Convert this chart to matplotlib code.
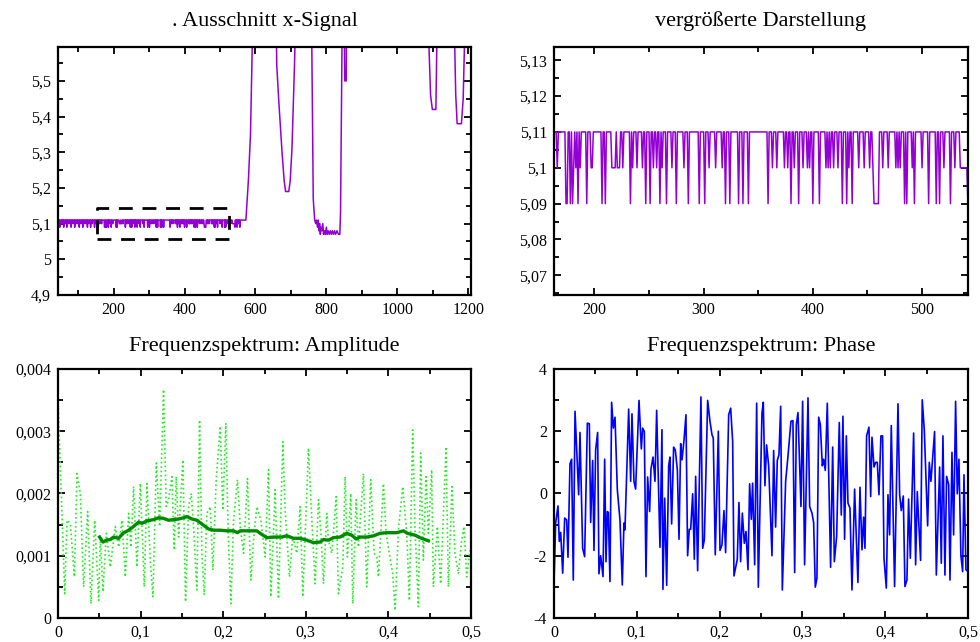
import numpy as np
import matplotlib
matplotlib.use("Agg")
import matplotlib.pyplot as plt
from matplotlib.ticker import MultipleLocator, FuncFormatter

plt.rcParams['font.family'] = ['Liberation Serif', 'DejaVu Serif']

# x-Signal: Grundpegel 5,11 mit Einbruechen auf 5,10 bzw. 5,09 (Abtastwerte)
signal_start, signal_end = 43, 573
base_level = 5.11
dips_510 = [45, 52, 55, 64, 71, 76, 85, 94, 98, 108, 117, 122, 131, 140, 150, 158,
            161, 166, 181, 183, 187, 197, 198, 216, 217, 218, 219, 221, 222, 223,
            226, 235, 239, 244, 254, 257, 262, 271, 282, 305, 311, 317, 363, 367,
            374, 377, 383, 391, 395, 397, 412, 414, 416, 419, 423, 433, 442, 447,
            452, 455, 464, 469, 476, 478, 480, 491, 500, 520, 530, 535, 536, 537,
            538, 539, 540, 541, 545, 552]
dips_509 = [48, 59, 68, 80, 90, 103, 113, 126, 135, 146, 155, 174, 175, 178, 180,
            185, 193, 207, 210, 233, 247, 251, 260, 266, 275, 286, 296, 301, 320,
            324, 332, 336, 341, 359, 380, 387, 400, 406, 427, 431, 436, 456, 457,
            458, 459, 460, 484, 486, 493, 506, 513, 516, 526, 542, 548, 556]

# grober Verlauf nach dem Ruhebereich (x, Wert)
shape_pts = [(580, 5.22), (586, 5.35), (591, 5.60), (594, 5.70), (658, 5.70),
             (660, 5.545), (666, 5.44), (675, 5.30), (681, 5.22), (685, 5.19),
             (694, 5.19), (698, 5.22), (703, 5.31), (710, 5.54), (714, 5.70),
             (758, 5.70), (763, 5.17), (767, 5.11), (770, 5.10), (772, 5.11),
             (775, 5.09), (777, 5.11), (779, 5.08), (781, 5.10), (783, 5.07),
             (785, 5.09), (787, 5.08), (790, 5.10), (792, 5.07), (795, 5.08),
             (797, 5.07), (800, 5.09), (802, 5.07), (805, 5.08), (808, 5.07),
             (811, 5.08), (814, 5.07), (817, 5.08), (820, 5.07), (823, 5.08),
             (826, 5.07), (830, 5.08), (834, 5.07), (838, 5.07), (840, 5.13),
             (845, 5.70), (850, 5.70), (852, 5.50), (856, 5.50), (857, 5.70),
             (1087, 5.70), (1090, 5.58), (1094, 5.46), (1099, 5.42), (1109, 5.42),
             (1113, 5.70), (1160, 5.70), (1165, 5.46), (1169, 5.38), (1181, 5.38),
             (1186, 5.45), (1192, 5.70), (1210, 5.70)]

box_x = [153, 526]
box_y = [5.057, 5.143]

# Amplitudenspektrum (Werte in 1e-3)
amp_pts = [(0.0, 3.51), (0.0081, 0.39), (0.0109, 1.57), (0.0149, 1.52), (0.0198, 0.66),
           (0.0230, 2.32), (0.0270, 2.00), (0.0310, 0.50), (0.0359, 1.71), (0.0399, 0.23),
           (0.0444, 1.57), (0.0492, 0.28), (0.0512, 1.30), (0.0544, 0.42), (0.0585, 1.36),
           (0.0633, 0.82), (0.0694, 1.47), (0.0734, 1.14), (0.0774, 1.57), (0.0815, 0.66),
           (0.0855, 1.68), (0.0883, 1.14), (0.0915, 2.11), (0.0956, 0.82), (0.0996, 2.16),
           (0.1044, 0.50), (0.1077, 2.16), (0.1117, 0.93), (0.1149, 0.34), (0.1190, 2.49),
           (0.1230, 1.47), (0.1278, 3.67), (0.1310, 1.79), (0.1339, 1.90), (0.1379, 2.27),
           (0.1407, 1.09), (0.1431, 2.27), (0.1460, 1.30), (0.1512, 2.54), (0.1544, 0.26),
           (0.1581, 1.79), (0.1613, 2.00), (0.1641, 1.47), (0.1681, 0.45), (0.1714, 3.18),
           (0.1742, 1.04), (0.1770, 0.37), (0.1802, 1.68), (0.1843, 1.79), (0.1875, 0.77),
           (0.1915, 2.22), (0.1964, 3.08), (0.1996, 1.73), (0.2032, 3.13), (0.2060, 1.36),
           (0.2093, 0.23), (0.2125, 1.57), (0.2173, 2.22), (0.2206, 1.47), (0.2246, 1.04),
           (0.2294, 2.24), (0.2335, 0.61), (0.2367, 1.25), (0.2407, 1.79), (0.2456, 1.57),
           (0.2508, 0.98), (0.2548, 2.38), (0.2577, 0.34), (0.2629, 2.06), (0.2669, 0.31),
           (0.2722, 2.83), (0.2750, 1.73), (0.2802, 0.66), (0.2843, 1.30), (0.2891, 1.04),
           (0.2931, 1.79), (0.2964, 0.34), (0.3032, 2.73), (0.3073, 1.57), (0.3113, 0.55),
           (0.3153, 1.90), (0.3181, 1.41), (0.3214, 0.55), (0.3254, 1.68), (0.3274, 1.25),
           (0.3315, 1.04), (0.3367, 1.95), (0.3395, 0.39), (0.3448, 0.82), (0.3476, 2.27),
           (0.3504, 0.98), (0.3544, 2.00), (0.3569, 0.23), (0.3609, 1.90), (0.3637, 1.14),
           (0.3698, 2.32), (0.3738, 0.50), (0.3786, 2.22), (0.3827, 1.04), (0.3859, 0.98),
           (0.3879, 0.66), (0.3940, 2.16), (0.3972, 1.36), (0.4012, 1.04), (0.4052, 0.71),
           (0.4081, 0.12), (0.4121, 1.41), (0.4173, 2.11), (0.4222, 1.36), (0.4254, 0.28),
           (0.4294, 3.02), (0.4323, 1.41), (0.4363, 0.18), (0.4391, 2.65), (0.4423, 0.93),
           (0.4456, 2.27), (0.4484, 1.36), (0.4524, 2.38), (0.4544, 0.50), (0.4593, 1.47),
           (0.4633, 0.55), (0.4698, 2.75), (0.4726, 0.50), (0.4770, 2.11), (0.4806, 1.04),
           (0.4847, 0.71), (0.4887, 1.25), (0.4915, 1.47), (0.4948, 0.66), (0.4988, 1.09)]

# gleitender Mittelwert (Werte in 1e-3)
amp_mean_pts = [(0.0504, 1.30), (0.0544, 1.22), (0.0585, 1.25), (0.0633, 1.26), (0.0673, 1.30),
                (0.0734, 1.28), (0.0786, 1.36), (0.0855, 1.41), (0.0915, 1.47), (0.0976, 1.54),
                (0.1016, 1.52), (0.1077, 1.56), (0.1157, 1.58), (0.1218, 1.61), (0.1278, 1.60),
                (0.1339, 1.57), (0.1399, 1.58), (0.1460, 1.59), (0.1520, 1.61), (0.1560, 1.63),
                (0.1621, 1.59), (0.1681, 1.57), (0.1742, 1.51), (0.1823, 1.43), (0.1883, 1.41),
                (0.1964, 1.41), (0.2044, 1.40), (0.2125, 1.40), (0.2173, 1.37), (0.2206, 1.40),
                (0.2286, 1.40), (0.2407, 1.40), (0.2448, 1.36), (0.2528, 1.29), (0.2609, 1.30),
                (0.2710, 1.30), (0.2770, 1.32), (0.2851, 1.28), (0.2931, 1.28), (0.3012, 1.25),
                (0.3093, 1.21), (0.3173, 1.22), (0.3214, 1.26), (0.3274, 1.25), (0.3335, 1.29),
                (0.3415, 1.30), (0.3496, 1.36), (0.3556, 1.33), (0.3609, 1.27), (0.3657, 1.30),
                (0.3738, 1.30), (0.3819, 1.32), (0.3899, 1.36), (0.3980, 1.37), (0.4101, 1.37),
                (0.4181, 1.40), (0.4230, 1.36), (0.4323, 1.33), (0.4383, 1.29), (0.4484, 1.24)]

# Phasenspektrum
phase_pts = [(0.0, -2.9), (0.0020, -0.95), (0.0048, -0.40), (0.0064, -1.54), (0.0081, -1.25),
             (0.0105, -2.56), (0.0129, -0.79), (0.0153, -0.85), (0.0169, -2.05), (0.0193, 0.95),
             (0.0213, 1.10), (0.0233, -2.78), (0.0254, 2.64), (0.0298, -0.04), (0.0314, 1.96),
             (0.0346, -1.76), (0.0370, -2.03), (0.0403, 2.26), (0.0427, 2.24), (0.0443, -0.93),
             (0.0467, 1.06), (0.0483, -1.83), (0.0503, 1.40), (0.0527, 1.96), (0.0543, -2.58),
             (0.0564, -2.00), (0.0592, -2.67), (0.0612, 1.10), (0.0628, -2.19), (0.0644, -0.58),
             (0.0656, -0.61), (0.0676, -2.83), (0.0696, 2.93), (0.0717, 2.10), (0.0737, 2.45),
             (0.0765, 0.12), (0.0797, -0.85), (0.0825, -2.94), (0.0845, -0.95), (0.0857, -1.17),
             (0.0902, 2.71), (0.0926, 0.39), (0.0942, 2.56), (0.0966, 0.39), (0.0986, 0.14),
             (0.1027, 2.99), (0.1055, 1.43), (0.1071, 2.10), (0.1091, 1.99), (0.1111, -2.67),
             (0.1131, 0.53), (0.1155, -0.58), (0.1171, 0.78), (0.1196, 1.17), (0.1220, 0.39),
             (0.1240, 2.67), (0.1280, -1.73), (0.1304, 2.05), (0.1316, -3.08), (0.1337, -0.15),
             (0.1361, -2.95), (0.1385, 0.89), (0.1401, 1.17), (0.1421, -0.98), (0.1445, 1.49),
             (0.1465, 1.40), (0.1490, 0.76), (0.1510, -1.47), (0.1530, 1.60), (0.1546, 1.08),
             (0.1570, 1.70), (0.1594, 2.53), (0.1614, -2.00), (0.1634, -1.15), (0.1651, -1.15),
             (0.1675, -0.01), (0.1695, -2.11), (0.1711, 0.55), (0.1735, -2.48), (0.1775, 3.10),
             (0.1796, -1.76), (0.1816, -1.49), (0.1856, 2.99), (0.1884, 2.32), (0.1908, 1.89),
             (0.1924, 1.78), (0.1948, -1.97), (0.1985, 2.00), (0.2005, -1.83), (0.2029, -1.65),
             (0.2053, -0.55), (0.2073, -1.90), (0.2110, 2.53), (0.2134, 2.74), (0.2158, 1.67),
             (0.2174, -2.65), (0.2214, -2.11), (0.2234, -0.29), (0.2254, -2.19), (0.2275, -0.63),
             (0.2299, -1.60), (0.2319, -1.22), (0.2343, -2.45), (0.2363, 0.31), (0.2383, -0.83),
             (0.2399, 0.33), (0.2424, -2.29), (0.2448, 2.90), (0.2468, -3.01), (0.2512, 2.58),
             (0.2528, 2.93), (0.2548, 0.25), (0.2568, 1.56), (0.2593, 0.89), (0.2633, -2.00),
             (0.2653, 1.38), (0.2677, -1.08), (0.2697, 1.06), (0.2717, 1.24), (0.2738, 2.80),
             (0.2758, -3.10), (0.2798, 0.39), (0.2826, 1.19), (0.2862, 2.32), (0.2886, 2.34),
             (0.2907, -2.54), (0.2927, 2.21), (0.2947, 2.60), (0.2983, -0.42), (0.3003, 2.96),
             (0.3027, -2.29), (0.3068, 3.07), (0.3088, -0.42), (0.3116, -0.63), (0.3136, -0.93),
             (0.3156, -3.01), (0.3176, -2.72), (0.3197, 2.45), (0.3217, 2.21), (0.3241, 0.89),
             (0.3257, 1.10), (0.3277, 0.74), (0.3301, 2.90), (0.3341, -2.37), (0.3366, 1.49),
             (0.3386, -2.19), (0.3414, -1.38), (0.3446, 2.28), (0.3470, -0.69), (0.3490, 2.48),
             (0.3510, -1.47), (0.3531, 1.85), (0.3551, -0.31), (0.3575, -0.47), (0.3599, -3.10),
             (0.3631, 0.14), (0.3671, -2.86), (0.3696, 0.20), (0.3720, -1.81), (0.3740, -0.76),
             (0.3756, -1.76), (0.3776, 1.85), (0.3804, 2.13), (0.3825, -0.10), (0.3841, 1.81),
             (0.3865, 0.85), (0.3885, 1.00), (0.3905, 1.00), (0.3925, -0.04), (0.3949, 1.85),
             (0.3969, 1.85), (0.3986, -2.08), (0.4014, -3.04), (0.4034, -0.04), (0.4054, -1.33),
             (0.4074, 2.18), (0.4114, -2.99), (0.4155, 2.88), (0.4175, -0.04), (0.4195, -0.55),
             (0.4219, -0.08), (0.4239, -2.99), (0.4263, -2.78), (0.4283, -0.18), (0.4304, -2.08),
             (0.4344, 1.94), (0.4368, -2.29), (0.4388, 0.06), (0.4428, -2.15), (0.4448, 3.01),
             (0.4473, 2.03), (0.4513, -1.04), (0.4533, 1.00), (0.4553, 0.39), (0.4597, 1.99),
             (0.4618, -2.62), (0.4658, 0.85), (0.4678, -2.24), (0.4698, 1.85), (0.4722, -2.62),
             (0.4742, 0.55), (0.4767, 0.28), (0.4783, -2.78), (0.4807, 1.32), (0.4827, -1.33),
             (0.4851, 2.96), (0.4871, -0.01), (0.4891, 1.10), (0.4915, -2.00), (0.4936, -2.51),
             (0.4952, 0.60), (0.4976, -2.45), (0.5000, -2.51)]

# Signal zusammensetzen
sig_x = np.arange(signal_start, signal_end + 1)
sig_y = np.full(sig_x.shape, base_level)
sig_y[np.isin(sig_x, dips_510)] = 5.10
sig_y[np.isin(sig_x, dips_509)] = 5.09
sx, sy = zip(*shape_pts)
sig_x = np.concatenate([sig_x, sx])
sig_y = np.concatenate([sig_y, sy])

amp_f, amp_v = map(np.array, zip(*amp_pts))
mean_f, mean_v = map(np.array, zip(*amp_mean_pts))
ph_f, ph_v = zip(*phase_pts)


def comma(v, pos):
    if abs(v) < 1e-12:
        return "0"
    return f"{v:g}".replace('.', ',')


def style(ax, xmaj, xmin, ymaj, ymin):
    ax.xaxis.set_major_locator(MultipleLocator(xmaj))
    ax.xaxis.set_minor_locator(MultipleLocator(xmin))
    ax.yaxis.set_major_locator(MultipleLocator(ymaj))
    ax.yaxis.set_minor_locator(MultipleLocator(ymin))
    ax.xaxis.set_major_formatter(FuncFormatter(comma))
    ax.yaxis.set_major_formatter(FuncFormatter(comma))
    ax.tick_params(which='both', direction='in', top=True, right=True,
                   width=1.3, labelsize=11.5, pad=5)
    ax.tick_params(which='major', length=5)
    ax.tick_params(which='minor', length=3.3)
    for sp in ax.spines.values():
        sp.set_linewidth(1.6)


purple = '#9400d3'
fig = plt.figure(figsize=(9.8, 6.42), dpi=100)

ax1 = fig.add_axes([0.0592, 0.5405, 0.4214, 0.3863])
ax1.plot(sig_x, sig_y, color=purple, lw=1.1)
ax1.plot([box_x[0], box_x[1], box_x[1], box_x[0], box_x[0]],
         [box_y[0], box_y[0], box_y[1], box_y[1], box_y[0]],
         color='black', lw=2, dashes=(5, 3.5))
ax1.set_xlim(43, 1208)
ax1.set_ylim(4.9, 5.595)
style(ax1, 200, 100, 0.1, 0.05)
ax1.set_title(". Ausschnitt x-Signal", fontsize=16, pad=15)

ax2 = fig.add_axes([0.5653, 0.5405, 0.4224, 0.3863])
ax2.plot(sig_x, sig_y, color=purple, lw=1.1)
ax2.set_xlim(163, 542)
ax2.set_ylim(5.0645, 5.1337)
style(ax2, 100, 50, 0.01, 0.005)
ax2.set_title("vergrößerte Darstellung", fontsize=16, pad=15)

ax3 = fig.add_axes([0.0592, 0.0374, 0.4214, 0.3879])
ax3.plot(amp_f, amp_v * 1e-3, color='#22ee22', lw=1.2, ls=':')
ax3.plot(mean_f, mean_v * 1e-3, color='#008a00', lw=2.4)
ax3.set_xlim(0, 0.5)
ax3.set_ylim(0, 0.004)
style(ax3, 0.1, 0.05, 0.001, 0.0005)
ax3.set_title("Frequenzspektrum: Amplitude", fontsize=16, pad=13)

ax4 = fig.add_axes([0.5653, 0.0374, 0.4224, 0.3879])
ax4.plot(ph_f, ph_v, color='#0000ff', lw=1.2)
ax4.set_xlim(0, 0.5)
ax4.set_ylim(-4, 4)
style(ax4, 0.1, 0.05, 2, 1)
ax4.set_title("Frequenzspektrum: Phase", fontsize=16, pad=13)

fig.savefig("out.png", dpi=100)
